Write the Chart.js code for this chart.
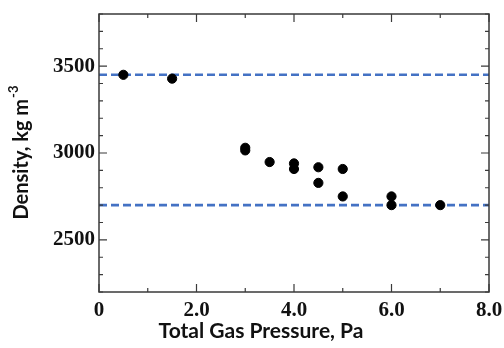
<!DOCTYPE html>
<html>
<head>
<meta charset="utf-8">
<script src="https://cdn.jsdelivr.net/npm/chart.js@4.4.1/dist/chart.umd.min.js"></script>
<style>
  html, body { margin: 0; padding: 0; background: #fff; }
  #wrap { width: 504px; height: 348px; }
</style>
</head>
<body>
<div id="wrap"><canvas id="densityChart"></canvas></div>
<script>
// measured points
const pressure = [0.5, 1.5, 3.0, 3.0, 3.5, 4.0, 4.0, 4.5, 4.5, 5.0, 5.0, 6.0, 6.0, 7.0];
const density  = [3450, 3428, 3030, 3015, 2948, 2940, 2908, 2918, 2828, 2908, 2750, 2750, 2700, 2700];

// reference levels (dashed)
const refX = [0, 8];
const upperRef = [3450, 3450];
const lowerRef = [2700, 2700];

const xLabels = {0: '0', 2: '2.0', 4: '4.0', 6: '6.0', 8: '8.0'};
const yLabels = [2500, 3000, 3500];

const toPts = (xs, ys) => xs.map((x, i) => ({x: x, y: ys[i]}));

const frameColor = '#3a3a3a';
const titleFont = px => 'bold ' + px + 'px Lato, "DejaVu Sans", sans-serif';

// frame, inward ticks and axis titles
const framePlugin = {
  id: 'frame',
  afterDraw(chart) {
    const c = chart.ctx;
    const a = chart.chartArea;
    const xs = chart.scales.x, ys = chart.scales.y;
    c.save();
    c.strokeStyle = frameColor;
    c.lineWidth = 1.5;
    c.strokeRect(a.left, a.top, a.right - a.left, a.bottom - a.top);
    c.lineWidth = 1.2;
    c.beginPath();
    for (let v = 0; v <= 8; v++) {
      const px = xs.getPixelForValue(v);
      const len = v % 2 === 0 ? 8 : 4;
      c.moveTo(px, a.bottom); c.lineTo(px, a.bottom - len);
      c.moveTo(px, a.top); c.lineTo(px, a.top + len);
    }
    for (let v = 2200; v <= 3800; v += 100) {
      const py = ys.getPixelForValue(v);
      const len = v % 500 === 0 ? 8 : 4;
      c.moveTo(a.left, py); c.lineTo(a.left + len, py);
      c.moveTo(a.right, py); c.lineTo(a.right - len, py);
    }
    c.stroke();

    c.fillStyle = '#111';
    c.font = titleFont(21);
    c.textAlign = 'center';
    c.textBaseline = 'middle';
    c.fillText('Total Gas Pressure, Pa', a.left + 162, 331);

    // y title with superscript
    const main = 'Density, kg m';
    const sup = '-3';
    c.font = titleFont(20);
    const mw = c.measureText(main).width;
    c.font = titleFont(13);
    const sw = c.measureText(sup).width;
    c.translate(22, (a.top + a.bottom) / 2);
    c.rotate(-Math.PI / 2);
    const start = -(mw + sw) / 2;
    c.textAlign = 'left';
    c.font = titleFont(20);
    c.fillText(main, start, 0);
    c.font = titleFont(13);
    c.fillText(sup, start + mw + 1, -8);
    c.restore();
  }
};

new Chart(document.getElementById('densityChart'), {
  type: 'scatter',
  data: {
    datasets: [
      {
        label: 'Density',
        data: toPts(pressure, density),
        backgroundColor: '#000',
        borderColor: '#000',
        pointRadius: 4.6,
        order: 0
      },
      {
        type: 'line',
        label: 'upper',
        data: toPts(refX, upperRef),
        borderColor: '#4472c4',
        borderWidth: 2.6,
        borderDash: [8, 4],
        pointRadius: 0,
        fill: false,
        order: 1
      },
      {
        type: 'line',
        label: 'lower',
        data: toPts(refX, lowerRef),
        borderColor: '#4472c4',
        borderWidth: 2.6,
        borderDash: [8, 4],
        pointRadius: 0,
        fill: false,
        order: 1
      }
    ]
  },
  options: {
    responsive: true,
    maintainAspectRatio: false,
    animation: false,
    layout: { padding: { left: 0, right: 15, top: 14, bottom: 0 } },
    plugins: {
      legend: { display: false },
      tooltip: { enabled: false }
    },
    scales: {
      x: {
        type: 'linear',
        min: 0,
        max: 8,
        grid: { display: false, drawTicks: false },
        border: { display: false },
        ticks: {
          stepSize: 1,
          autoSkip: false,
          maxRotation: 0,
          padding: 6,
          color: '#111',
          font: { family: '"Liberation Serif", serif', size: 21, weight: 'bold' },
          callback: v => (v in xLabels ? xLabels[v] : '')
        },
        afterFit: s => { s.height = 56; s.paddingRight = 0; s.paddingLeft = 0; }
      },
      y: {
        min: 2200,
        max: 3800,
        grid: { display: false, drawTicks: false },
        border: { display: false },
        ticks: {
          stepSize: 100,
          autoSkip: false,
          padding: 4,
          color: '#111',
          font: { family: '"Liberation Serif", serif', size: 21, weight: 'bold' },
          callback: v => (yLabels.includes(v) ? String(v) : '')
        },
        afterFit: s => { s.width = 99; s.paddingTop = 0; s.paddingBottom = 0; }
      }
    }
  },
  plugins: [framePlugin]
});
</script>
</body>
</html>
